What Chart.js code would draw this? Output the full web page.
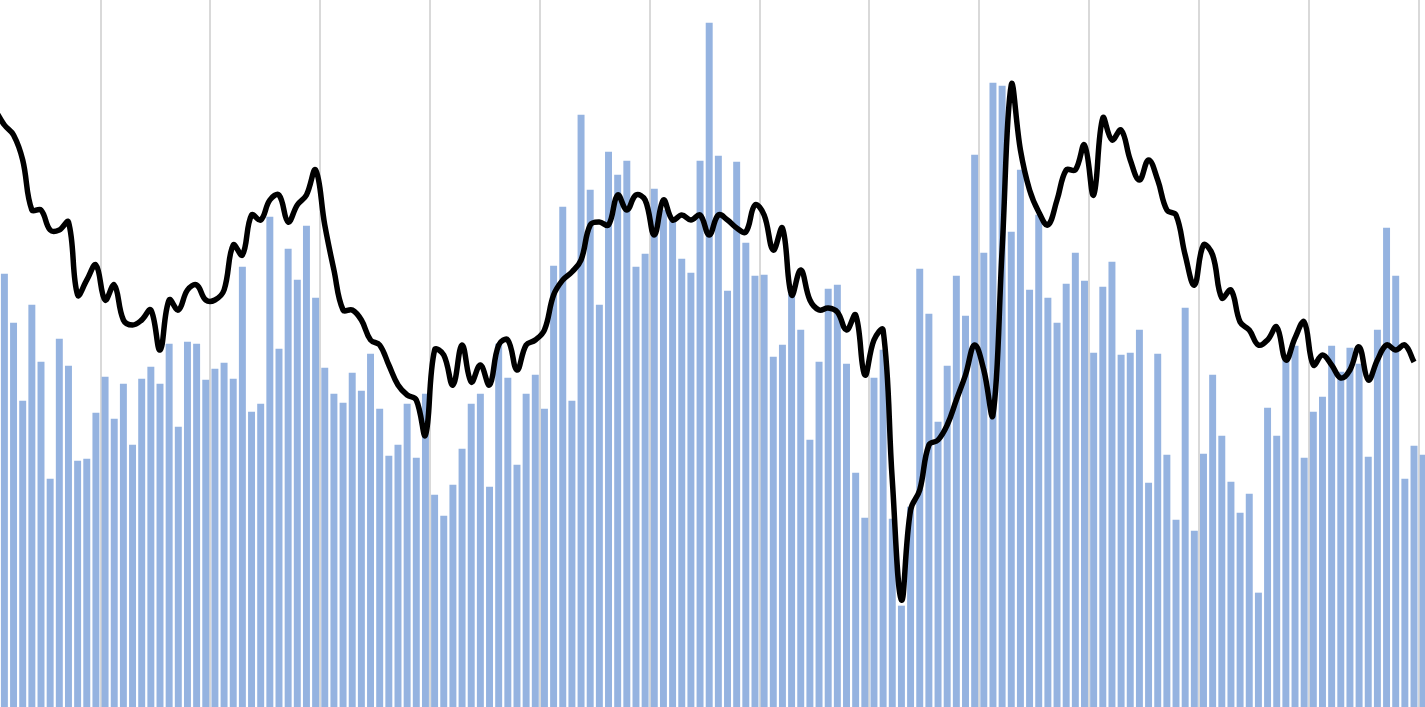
<!DOCTYPE html>
<html><head><meta charset="utf-8">
<script src="https://cdn.jsdelivr.net/npm/chart.js@4"></script>
<style>html,body{margin:0;padding:0;background:#fff;overflow:hidden}</style>
</head><body>
<canvas id="c" width="1425" height="707"></canvas>
<script>
// Bar top positions (pixel y of top), converted to values below
const barTops = [372,274,323,401,305,362,479,339,366,461,459,413,377,419,384,445,379,367,384,344,427,342,344,380,369,363,379,
267,412,404,217,349,249,280,226,298,368,394,403,373,391,354,409,456,445,404,458,394,495,516,485,449,404,
394,487,344,378,465,394,375,409,266,207,401,115,190,305,152,175,161,267,254,189,210,221,259,273,161,
23,156,291,162,243,276,275,357,345,294,330,440,362,289,285,364,473,518,378,350,519,606,507,269,314,
422,366,276,316,155,253,83,86,232,170,290,215,298,323,284,253,281,353,287,262,355,353,330,483,354,455,
520,308,531,454,375,436,482,513,494,593,408,436,355,346,458,412,397,346,372,348,364,457,330,228,276,479,446,455];
const lineTops = [110,125,135,160,210,210,230,230,222,295,280,265,300,285,320,325,320,310,350,300,310,290,285,300,300,290,245,255,215,220,200,195,222,205,195,170,225,270,310,310,320,340,345,365,385,395,400,435,350,355,385,345,382,365,385,345,340,370,345,340,330,295,280,272,260,225,222,225,195,210,195,200,235,200,220,215,220,215,235,215,220,228,232,205,215,250,228,295,270,300,310,308,312,330,315,375,340,330,480,600,510,490,445,440,425,400,375,345,370,415,250,85,150,190,212,225,200,170,170,145,195,118,140,130,160,180,160,180,210,215,255,285,245,255,298,290,322,330,345,340,327,360,338,322,365,355,365,378,370,347,380,360,345,350,345,362];
const H = 707;
const barValues = barTops.map(t => H - t);
const lineValues = lineTops.map(t => H - t);
const gridTicks = [];
for (let v = 11.5; v < 160; v += 12) gridTicks.push(v);

new Chart(document.getElementById('c'), {
  data: {
    datasets: [
      { type:'line', data: lineValues.map((y,i)=>({x:i,y})), borderColor:'#000', borderWidth:5.5,
        pointRadius:0, tension:0.4, fill:false, order:0 },
      { type:'bar', data: barValues.map((y,i)=>({x:i,y})), backgroundColor:'#95b3e0',
        barThickness:6.3, order:1 }
    ]
  },
  options: {
    responsive:false, animation:false, events:[],
    layout:{padding:0},
    plugins:{legend:{display:false}, tooltip:{enabled:false}},
    scales:{
      x:{ type:'linear', min:0.52, max:156.2, offset:false,
          afterBuildTicks: s => { s.ticks = gridTicks.map(v=>({value:v})); },
          ticks:{display:false}, border:{display:false},
          grid:{color:'#d9d9d9', lineWidth:2, drawTicks:false, offset:false} },
      y:{ display:false, min:0, max:H }
    }
  }
});
</script>
</body></html>
